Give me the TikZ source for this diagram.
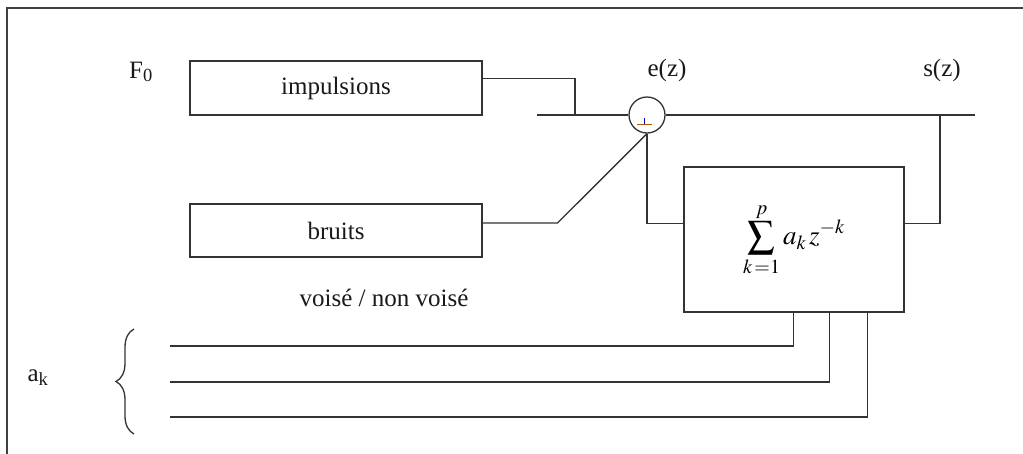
\documentclass[tikz,border=0pt]{standalone}
\usepackage{mathptmx}
\usepackage{fontspec}
\setmainfont{Liberation Serif}
\usetikzlibrary{calc,decorations.pathreplacing}

\begin{document}
\begin{tikzpicture}[x=1pt,y=-1pt,
  wire/.style={draw=black!80,line width=1.3pt},
  blockbox/.style={draw=black!80,line width=1.3pt,inner sep=0pt},
  lbl/.style={font=\fontsize{25}{28}\selectfont,text=black!90,inner sep=0pt}]
\useasboundingbox (0,0) rectangle (1023,453);

% outer frame (open to the right and bottom)
\draw[draw=black!75,line width=1.3pt] (7,460) -- (7,8) -- (1030,8);

% source blocks
\node[blockbox,minimum width=292pt,minimum height=54pt,lbl] (imp) at (336,88) {impulsions};
\node[blockbox,minimum width=292pt,minimum height=53pt,lbl] (br) at (336,230.5) {bruits};

% summing junction
\node[draw=black!80,line width=1.3pt,circle,minimum size=36pt,inner sep=0pt] (add) at (647,115) {};
\draw[line width=0.8pt,orange!70!black] ($(add.center)+(-10,9)$) -- ($(add.center)+(5,9)$);
\draw[line width=1pt,blue!70!black] ($(add.center)+(-3,3)$) -- ($(add.center)+(-3,9)$);

% prediction filter
\node[blockbox,minimum width=220pt,minimum height=145pt,
      font=\fontsize{27}{30}\selectfont] (filt) at (794,239.5)
  {$\displaystyle\sum_{k\,=1}^{p} a_k\, z^{-k}$};

% labels
\node[lbl] (f0) at (141,72) {F\textsubscript{0}};
\node[lbl] (ez) at (667,70) {e(z)};
\node[lbl] (sz) at (942,70) {s(z)};
\node[lbl] (vnv) at (384,298) {voisé / non voisé};
\node[lbl] (ak) at (38,378) {a\textsubscript{k}};

% main signal path
\coordinate (mainin) at (537,115);
\coordinate (mainout) at (975,115);
\coordinate (ja) at (575,115);
\coordinate (tap) at (940,115);
\draw[wire] (mainin) -- (add.west);
\draw[wire] (add.east) -- (mainout);
\draw[wire] ($(imp.north east)!0.33!(imp.south east)$) -| (ja);

% noise switch
\draw[wire] ($(br.north east)!0.36!(br.south east)$) -- ++(75,0) -- (add.south);

% feedback through the filter
\coordinate (fin) at ($(filt.north west)!0.39!(filt.south west)$);
\coordinate (fout) at ($(filt.north east)!0.39!(filt.south east)$);
\draw[wire] (add.south) |- (fin);
\draw[wire] (fout) -| (tap);

% coefficient inputs
\coordinate (c1) at ($(filt.south west)+(110,0)$);
\coordinate (c2) at ($(filt.south west)+(146,0)$);
\coordinate (c3) at ($(filt.south west)+(184,0)$);
\coordinate (s1) at (170,346);
\coordinate (s2) at (170,382);
\coordinate (s3) at (170,417);
\draw[wire] (s1) -| (c1);
\draw[wire] (s2) -| (c2);
\draw[wire] (s3) -| (c3);

% brace grouping the coefficients
\coordinate (bb) at (134,434);
\coordinate (bt) at (134,329);
\draw[draw=black!80,line width=1.3pt,decorate,decoration={brace,amplitude=18pt}] (bb) -- (bt);
\end{tikzpicture}
\end{document}
